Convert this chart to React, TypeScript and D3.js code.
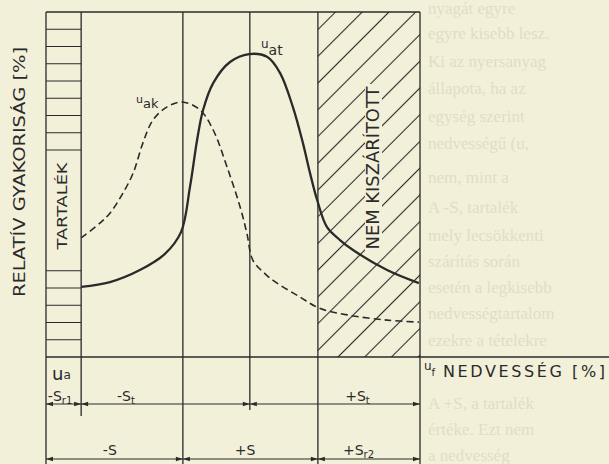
import React, { useRef, useEffect } from 'react';
import * as d3 from 'd3';

// x: moisture position across the drawing (0..100), y: relative frequency (0..100)
const atMoisture = [9.4, 17.1, 25.1, 31.8, 36.1, 38.5, 40.4, 42.0, 44.7, 49.2, 54.3, 59.1, 62.6, 66.0, 68.7, 70.6, 72.5, 75.1, 78.6, 82.1, 91.2, 99.7];
const atFreq = [20.3, 21.7, 25.2, 29.9, 36.2, 49.3, 62.9, 71.6, 79.4, 85.5, 87.8, 87.0, 82.3, 72.5, 62.0, 53.3, 45.5, 37.7, 33.9, 31.0, 25.2, 21.4];

const akMoisture = [9.4, 14.4, 17.1, 20.3, 23.3, 25.9, 28.6, 32.4, 36.4, 41.2, 44.7, 48.4, 51.9, 53.7, 55.3, 58.6, 61.8, 67.9, 73.0, 80.5, 91.2, 99.7];
const akFreq = [34.5, 38.8, 41.7, 47.0, 53.3, 62.0, 68.7, 72.5, 73.9, 71.6, 65.8, 55.1, 43.5, 35.9, 28.1, 24.1, 21.4, 17.4, 14.2, 12.2, 10.7, 10.1];

// vertical zone edges: u_a, end of tartalék, -S, u_at peak, +S end, right border
const zoneEdges = [0, 9.4, 36.6, 54.5, 72.7, 100];
const tartalekRows = [5, 10, 15, 20, 25, 60, 65, 70, 75, 80, 85, 90, 95];

// dimension rows under the axis
const dimRow1 = [
  { from: 0, to: 9.4, sign: '-S', sub: 'r1', at: 0.5 },
  { from: 9.4, to: 54.5, sign: '-S', sub: 't', at: 19 },
  { from: 54.5, to: 100, sign: '+S', sub: 't', at: 80 },
];
const dimRow2 = [
  { from: 0, to: 36.6, sign: '-S', sub: '', at: 15.2 },
  { from: 36.6, to: 72.7, sign: '+S', sub: '', at: 50.5 },
  { from: 72.7, to: 100, sign: '+S', sub: 'r2', at: 79.4 },
];

// faint text of the book page next to the figure
const pageLines = [
  'nyagát egyre', 'egyre kisebb lesz.', 'Ki az nyersanyag', 'állapota, ha az',
  'egység szerint', 'nedvességű (u,', 'nem, mint a', 'A -S, tartalék',
  'mely lecsökkenti', 'szárítás során', 'esetén a legkisebb', 'nedvességtartalom',
  'ezekre a tételekre', 'A +S, a tartalék', 'értéke. Ezt nem', 'a nedvesség',
];
const pageLineY = [8, 33, 61, 88, 116, 143, 177, 207, 235, 261, 287, 313, 340, 403, 429, 455];

const paper = '#f3f0da';
const ink = '#2a2a2a';
const font = 'DejaVu Sans, sans-serif';

const App = () => {
  const svgRef = useRef<SVGSVGElement>(null);

  useEffect(() => {
    document.body.style.margin = '0';
    document.body.style.background = paper;
    const svg = d3.select(svgRef.current);
    svg.selectAll('*').remove();
    const width = 609;
    const height = 464;
    svg.attr('width', width).attr('height', height);

    const x = d3.scaleLinear().domain([0, 100]).range([46, 420]);
    const y = d3.scaleLinear().domain([0, 100]).range([357, 12]);

    svg.append('rect').attr('width', width).attr('height', height).attr('fill', paper);

    // page text bleeding in on the right
    svg.append('g')
      .selectAll('text')
      .data(pageLines)
      .join('text')
      .attr('x', 428)
      .attr('y', (d, i) => pageLineY[i] + 6)
      .attr('font-family', 'Liberation Serif, serif')
      .attr('font-size', 17)
      .attr('fill', '#e1ddc5')
      .text(d => d);

    // hatching of the "nem kiszárított" zone
    const defs = svg.append('defs');
    const pat = defs.append('pattern')
      .attr('id', 'hatch')
      .attr('patternUnits', 'userSpaceOnUse')
      .attr('width', 18.9)
      .attr('height', 18.9)
      .attr('patternTransform', 'translate(13.4,0) rotate(45)');
    pat.append('line')
      .attr('x1', 9.45).attr('x2', 9.45).attr('y1', 0).attr('y2', 18.9)
      .attr('stroke', ink).attr('stroke-width', 1.1);

    svg.append('rect')
      .attr('x', x(zoneEdges[4])).attr('y', y(100))
      .attr('width', x(100) - x(zoneEdges[4]))
      .attr('height', y(0) - y(100))
      .attr('fill', 'url(#hatch)');
    svg.append('rect')
      .attr('x', 365).attr('y', 84).attr('width', 17).attr('height', 170)
      .attr('fill', paper);

    const frame = svg.append('g').attr('stroke', ink).attr('stroke-width', 1.3).attr('fill', 'none');
    // top border and x axis
    frame.append('line').attr('x1', x(0)).attr('x2', x(100)).attr('y1', y(100)).attr('y2', y(100));
    frame.append('line').attr('x1', x(0)).attr('x2', width).attr('y1', y(0)).attr('y2', y(0));

    // zone edges with their length below the axis
    const edgeBottom = [height, 416, height, 410, height, height];
    zoneEdges.forEach((e, i) => {
      frame.append('line')
        .attr('x1', x(e)).attr('x2', x(e))
        .attr('y1', y(100)).attr('y2', edgeBottom[i]);
    });

    // tartalék column cells
    frame.selectAll('.row')
      .data(tartalekRows)
      .join('line')
      .attr('x1', x(0)).attr('x2', x(zoneEdges[1]))
      .attr('y1', d => y(d)).attr('y2', d => y(d))
      .attr('stroke-width', 1.1);

    // curves
    const line = d3.line<number>()
      .x(d => x(d))
      .curve(d3.curveCatmullRom.alpha(0.5));

    svg.append('path')
      .attr('d', line.y((d, i) => y(akFreq[i]))(akMoisture))
      .attr('fill', 'none')
      .attr('stroke', ink)
      .attr('stroke-width', 1.6)
      .attr('stroke-dasharray', '7,4');

    svg.append('path')
      .attr('d', line.y((d, i) => y(atFreq[i]))(atMoisture))
      .attr('fill', 'none')
      .attr('stroke', ink)
      .attr('stroke-width', 2.3);

    // text with sub parts: [text, size, baseline shift]
    const label = (px: number, py: number, parts: [string, number, number][]) => {
      const t = svg.append('text')
        .attr('x', px).attr('y', py)
        .attr('font-family', font)
        .attr('fill', ink);
      let prev = 0;
      parts.forEach(([s, size, shift]) => {
        t.append('tspan')
          .attr('dy', shift - prev)
          .attr('font-size', size)
          .text(s);
        prev = shift;
      });
      return t;
    };

    label(136, 103, [['u', 11, 0], ['ak', 13, 5]]);
    label(261, 48, [['u', 12, 0], ['at', 14, 7]]);
    label(52, 380, [['u', 18, 0], ['a', 12, -1]]);
    label(424, 370, [['u', 12, 0], ['f', 10, 6]]);
    svg.append('text')
      .attr('x', 443).attr('y', 377)
      .attr('font-family', font).attr('font-size', 16)
      .attr('fill', ink)
      .attr('textLength', 162).attr('lengthAdjust', 'spacing')
      .text('NEDVESSÉG [%]');

    // rotated texts
    const rotated = (cx: number, cy: number, size: number, len: number, s: string) => {
      svg.append('text')
        .attr('transform', `translate(${cx},${cy}) rotate(-90)`)
        .attr('text-anchor', 'middle')
        .attr('dy', '0.36em')
        .attr('font-family', font)
        .attr('font-size', size)
        .attr('fill', ink)
        .attr('textLength', len).attr('lengthAdjust', 'spacingAndGlyphs')
        .text(s);
    };
    rotated(19, 172, 16, 250, 'RELATÍV GYAKORISÁG [%]');
    rotated(62, 206, 14, 87, 'TARTALÉK');
    rotated(373, 168, 17, 163, 'NEM KISZÁRÍTOTT');

    // dimension lines with arrows
    const dims = (rows: typeof dimRow1, ly: number, ty: number) => {
      svg.append('line')
        .attr('x1', x(0)).attr('x2', x(100))
        .attr('y1', ly).attr('y2', ly)
        .attr('stroke', ink).attr('stroke-width', 1.1);
      rows.forEach(r => {
        const a = x(r.from), b = x(r.to);
        svg.append('path')
          .attr('d', `M${a},${ly}L${a + 7},${ly - 2.3}L${a + 7},${ly + 2.3}Z`)
          .attr('fill', ink);
        svg.append('path')
          .attr('d', `M${b},${ly}L${b - 7},${ly - 2.3}L${b - 7},${ly + 2.3}Z`)
          .attr('fill', ink);
        const parts: [string, number, number][] = [[r.sign, 14, 0]];
        if (r.sub) parts.push([r.sub, 10, 3]);
        label(x(r.at), ty, parts);
      });
    };
    dims(dimRow1, 404, 401);
    dims(dimRow2, 459, 455);
  }, []);

  return <svg ref={svgRef} style={{ display: 'block' }}></svg>;
};

export default App;
